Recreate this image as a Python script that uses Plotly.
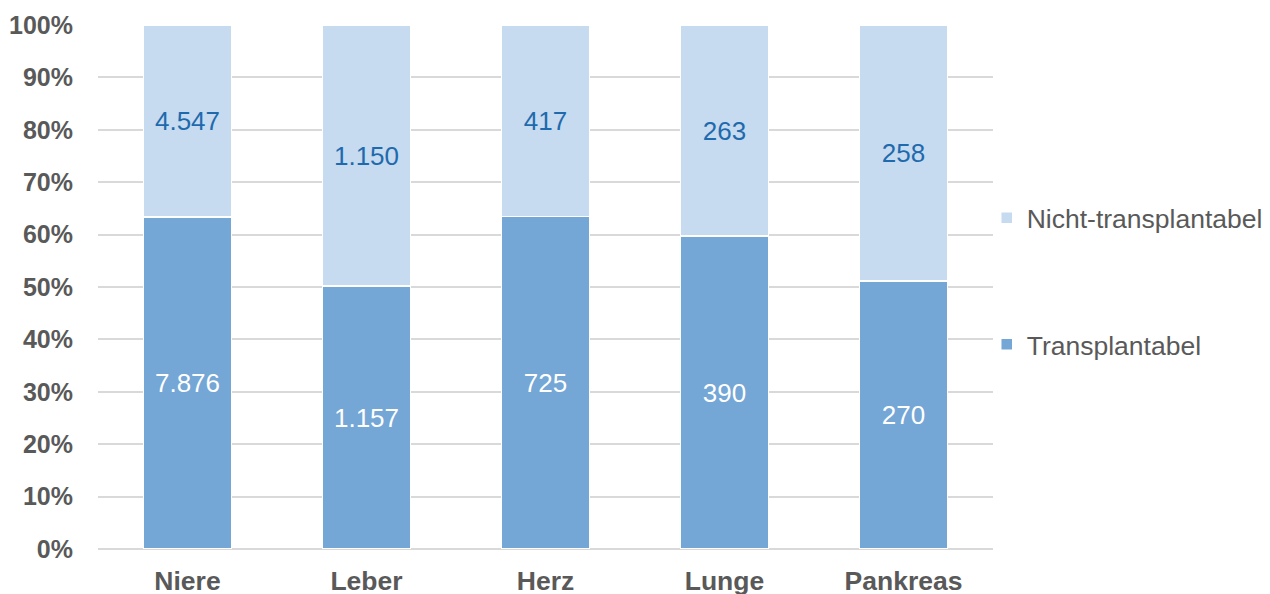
import plotly.graph_objects as go

categories = ["Niere", "Leber", "Herz", "Lunge", "Pankreas"]
transplantabel = [7876, 1157, 725, 390, 270]
nicht_transplantabel = [4547, 1150, 417, 263, 258]
y_ticks = [0, 10, 20, 30, 40, 50, 60, 70, 80, 90, 100]
y_tick_labels = [f"{v}%" for v in y_ticks]


def de_fmt(v):
    return f"{v:,}".replace(",", ".")


FONT = "Liberation Sans, Arial, sans-serif"
DARK = "#74a6d6"
LIGHT = "#c6daf0"

fig = go.Figure()
fig.add_trace(go.Bar(
    name="Transplantabel", x=categories, y=transplantabel,
    marker=dict(color=DARK, line=dict(color="white", width=1.5)),
    text=[de_fmt(v) for v in transplantabel], textposition="inside",
    insidetextanchor="middle", textangle=0,
    textfont=dict(family=FONT, size=26, color="white"),
    legendgroup="a", legendrank=2, hoverinfo="skip",
))
fig.add_trace(go.Bar(
    name="Nicht-transplantabel", x=categories, y=nicht_transplantabel,
    marker=dict(color=LIGHT, line=dict(color="white", width=1.5)),
    text=[de_fmt(v) for v in nicht_transplantabel], textposition="inside",
    insidetextanchor="middle", textangle=0,
    textfont=dict(family=FONT, size=26, color="#1f6aad"),
    legendgroup="b", legendrank=1, hoverinfo="skip",
))

fig.update_layout(
    barmode="stack", barnorm="percent", bargap=0.51,
    width=1262, height=586,
    margin=dict(l=90, r=277, t=17, b=45, autoexpand=False),
    plot_bgcolor="white", paper_bgcolor="white",
    font=dict(family=FONT, color="#595959", size=26),
    uniformtext=dict(minsize=26, mode="show"),
    legend=dict(
        x=0.993, xanchor="left", y=0.6775, yanchor="top",
        traceorder="grouped", tracegroupgap=89,
        font=dict(family=FONT, size=26.5, color="#595959"),
        itemwidth=30, bgcolor="rgba(0,0,0,0)",
    ),
    xaxis=dict(
        showgrid=False, showline=False, ticks="", automargin=False,
        tickfont=dict(family=FONT, size=26.5, color="#595959", weight="bold"),
        ticklabelstandoff=13,
    ),
    yaxis=dict(
        range=[0, 100], tickvals=y_ticks, ticktext=y_tick_labels,
        showgrid=True, gridcolor="#d9d9d9", gridwidth=2, automargin=False,
        zeroline=True, zerolinecolor="#d9d9d9", zerolinewidth=2,
        tickfont=dict(family=FONT, size=25, color="#595959", weight="bold"),
        ticklabelstandoff=24,
    ),
)

fig.write_html("out.html")
